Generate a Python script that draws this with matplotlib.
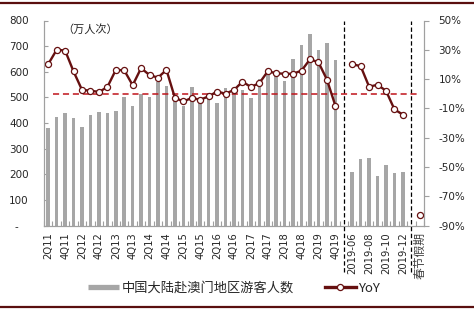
import matplotlib
matplotlib.use('Agg')
import matplotlib.pyplot as plt
import numpy as np
from matplotlib.lines import Line2D
from matplotlib.ticker import FixedLocator, FuncFormatter

plt.rcParams['font.family'] = ['DejaVu Sans', 'Noto Sans CJK SC']

quarters = ['2Q11', '3Q11', '4Q11',
            '1Q12', '2Q12', '3Q12', '4Q12',
            '1Q13', '2Q13', '3Q13', '4Q13',
            '1Q14', '2Q14', '3Q14', '4Q14',
            '1Q15', '2Q15', '3Q15', '4Q15',
            '1Q16', '2Q16', '3Q16', '4Q16',
            '1Q17', '2Q17', '3Q17', '4Q17',
            '1Q18', '2Q18', '3Q18', '4Q18',
            '1Q19', '2Q19', '3Q19', '4Q19']
months = ['2019-06', '2019-07', '2019-08', '2019-09', '2019-10', '2019-11', '2019-12']
holiday = ['春节假期']

visitors_q = [379, 424, 440, 420, 385, 432, 444, 440, 447, 502, 467, 512,
              502, 560, 543, 486, 466, 541, 497, 492, 479, 536, 522, 529,
              499, 571, 593, 584, 564, 651, 703, 746, 685, 713, 646]
visitors_m = [210, 259, 265, 193, 236, 204, 210]

yoy_q = [20.2, 30.0, 29.5, 15.2, 2.6, 2.1, 1.2, 4.5, 16.2, 16.0, 5.8, 17.5,
         12.7, 11.0, 16.3, -2.8, -5.3, -2.9, -4.1, -1.8, 1.5, 0.0, 2.6, 8.2,
         4.6, 7.2, 15.3, 14.0, 13.6, 13.6, 15.8, 23.5, 21.5, 9.7, -8.1]
yoy_m = [20.2, 18.8, 4.8, 6.1, 2.0, -10.7, -14.3]
yoy_holiday = [-83.0]

left_ticks = [0, 100, 200, 300, 400, 500, 600, 700, 800]
right_ticks = [-90, -70, -50, -30, -10, 10, 30, 50]

categories = quarters + [''] + months + [''] + holiday
n = len(categories)
x = np.arange(n)
iq = x[:len(quarters)]
im = x[len(quarters) + 1:len(quarters) + 1 + len(months)]
ih = x[-1:]
sep1 = len(quarters)
sep2 = len(quarters) + 1 + len(months)

BAR = '#A6A6A6'
LINE = '#661010'
RED = '#C0141B'
TXT = '#262626'
AXC = '#A0A0A0'

fig = plt.figure(figsize=(4.74, 3.11), dpi=100)
ax = fig.add_axes([44/474, 1 - 225.5/311, 380/474, 205/311])
ax2 = ax.twinx()

ax.bar(iq, visitors_q, width=0.42, color=BAR, zorder=2)
ax.bar(im, visitors_m, width=0.42, color=BAR, zorder=2)
ax.set_xlim(-0.5, n - 0.5)
ax.set_ylim(0, 800)
ax.set_yticks(left_ticks)
ax.set_yticklabels(['-   '] + [str(v) for v in left_ticks[1:]])

ax2.axhline(0, xmin=0.025, xmax=0.99, color=RED, lw=1.1, ls=(0, (4, 2.5)), zorder=1)
mk = dict(marker='o', ms=4.4, mfc='white', mec=LINE, mew=0.9)
ax2.plot(iq, yoy_q, color=LINE, lw=1.7, **mk)
ax2.plot(im, yoy_m, color=LINE, lw=1.7, **mk)
ax2.plot(ih, yoy_holiday, ls='none', **mk)
ax2.set_ylim(-90, 50)
ax2.set_yticks(right_ticks)
ax2.yaxis.set_major_formatter(FuncFormatter(lambda v, p: f'{v:.0f}%'))

for s in (sep1, sep2):
    ax.axvline(s, ymin=-0.228, ymax=1.0, color='black', lw=0.9,
               ls=(0, (3.5, 2)), clip_on=False, zorder=5)

# ticks
ax.xaxis.set_major_locator(FixedLocator(x[::2]))
ax.set_xticklabels(categories[::2], rotation=90, fontsize=7.2, color=TXT)
ax.xaxis.set_minor_locator(FixedLocator(np.arange(n + 1) - 0.5))
ax.tick_params(axis='x', which='major', length=0, pad=5)
ax.tick_params(axis='x', which='minor', length=3.5, direction='in', color=AXC, width=0.8)
ax.tick_params(axis='y', length=3, direction='in', color=AXC, width=0.8,
               labelsize=7.5, labelcolor=TXT, pad=11)
ax2.tick_params(axis='y', length=3.5, direction='out', color=AXC, width=0.8,
                labelsize=7.5, labelcolor=TXT, pad=7)
for lab in ax.get_xticklabels():
    if lab.get_text() == '春节假期':
        lab.set_fontsize(8.5)
        lab.set_color('#404040')

for a in (ax, ax2):
    a.spines['top'].set_visible(False)
    for sp in ('left', 'right', 'bottom'):
        a.spines[sp].set_color(AXC)
        a.spines[sp].set_linewidth(0.8)

ax.text(0.12, 0.955, '（万人次）', transform=ax.transAxes, ha='center', va='center',
        fontsize=8, color=TXT, family=['Noto Sans CJK SC', 'DejaVu Sans'])

# legend
h1 = Line2D([], [], color=BAR, lw=3.8, solid_capstyle='butt')
h2 = Line2D([], [], color=LINE, lw=2.4, **mk)
leg = fig.legend([h1, h2], ['中国大陆赴澳门地区游客人数', 'YoY'], loc='center',
                 bbox_to_anchor=(0.494, 1 - 288.5/311), ncol=2, frameon=False,
                 handlelength=2.3, handletextpad=0.2, columnspacing=2.4,
                 prop={'family': ['Noto Sans CJK SC', 'DejaVu Sans'], 'size': 9.5})
for t in leg.get_texts():
    t.set_color(TXT)

# rule lines
for yy in (1 - 3.3/311, 1 - 307.3/311):
    fig.add_artist(Line2D([0, 1], [yy, yy], transform=fig.transFigure,
                          color='#5A0F0F', lw=1.6))

fig.savefig('out.png', dpi=100)
